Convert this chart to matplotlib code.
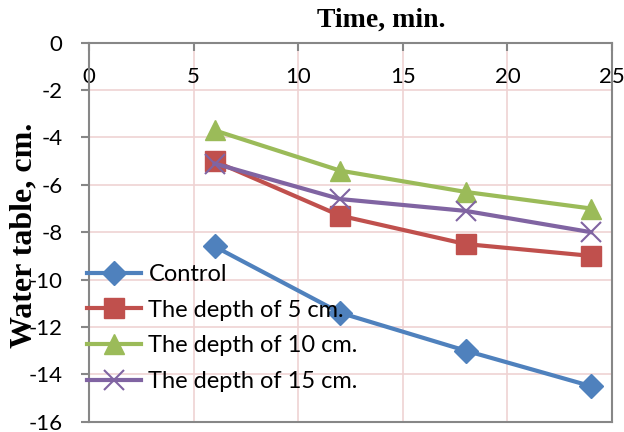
import matplotlib
matplotlib.use("Agg")
import matplotlib.pyplot as plt

time_min = [6, 12, 18, 24]
control = [-8.6, -11.4, -13.0, -14.5]
depth_5 = [-5.0, -7.3, -8.5, -9.0]
depth_10 = [-3.7, -5.4, -6.3, -7.0]
depth_15 = [-5.1, -6.6, -7.1, -8.0]

series_labels = ["Control", "The depth of 5 cm.", "The depth of 10 cm.", "The depth of 15 cm."]
x_ticks = [0, 5, 10, 15, 20, 25]
y_ticks = [0, -2, -4, -6, -8, -10, -12, -14, -16]

W, H = 624, 432
fig = plt.figure(figsize=(W / 100, H / 100), dpi=100)
ax = fig.add_axes([89 / W, 1 - 421.7 / H, (612 - 89) / W, (421.7 - 42.7) / H])

font = "Lato"
grid_c = "#EFD3D3"
spine_c = "#878787"

series = [
    (control, "#4F81BD", "D", 12, dict()),
    (depth_5, "#C0504D", "s", 14, dict()),
    (depth_10, "#9BBB59", "^", 14, dict()),
    (depth_15, "#8064A2", "x", 14, dict(markeredgewidth=1.5)),
]
for (vals, col, mk, ms, kw), lab in zip(series, series_labels):
    ax.plot(time_min, vals, color=col, lw=3, marker=mk, ms=ms, label=lab,
            markerfacecolor=col, markeredgecolor=col, zorder=3, **kw)

ax.set_xlim(0, 25)
ax.set_ylim(-16, 0)
ax.set_xticks(x_ticks)
ax.set_yticks(y_ticks)
ax.set_yticklabels([str(v) for v in y_ticks])
ax.xaxis.tick_top()
ax.grid(True, color=grid_c, lw=1.2, zorder=0)
ax.set_axisbelow(True)
for s in ax.spines.values():
    s.set_color(spine_c)
    s.set_linewidth(1.5)

ax.tick_params(axis="x", which="both", direction="in", length=6, width=1.5, color=spine_c,
               pad=-24.5, labelsize=16, top=True, bottom=False)
ax.tick_params(axis="y", direction="out", length=6, width=1.5, color=spine_c,
               pad=13, labelsize=16)
for lbl in ax.get_xticklabels() + ax.get_yticklabels():
    lbl.set_fontfamily(font)
for lbl in ax.get_xticklabels():
    lbl.set_va("center")

fig.text(381 / W, 1 - 20 / H, "Time, min.", ha="center", va="center",
         fontsize=20, fontweight="bold", family="Liberation Serif")
fig.text(24 / W, 1 - 235.5 / H, "Water table, cm.", ha="center", va="center", rotation=90,
         fontsize=23, fontweight="bold", family="Liberation Serif")

leg = ax.legend(loc="center left", bbox_to_anchor=(87 / W, 1 - 328 / H),
                bbox_transform=fig.transFigure, frameon=False, borderpad=0,
                borderaxespad=0, handlelength=2.3, handletextpad=0.3,
                labelspacing=0.62, prop={"family": font, "size": 17})

fig.savefig("out.png", dpi=100)
